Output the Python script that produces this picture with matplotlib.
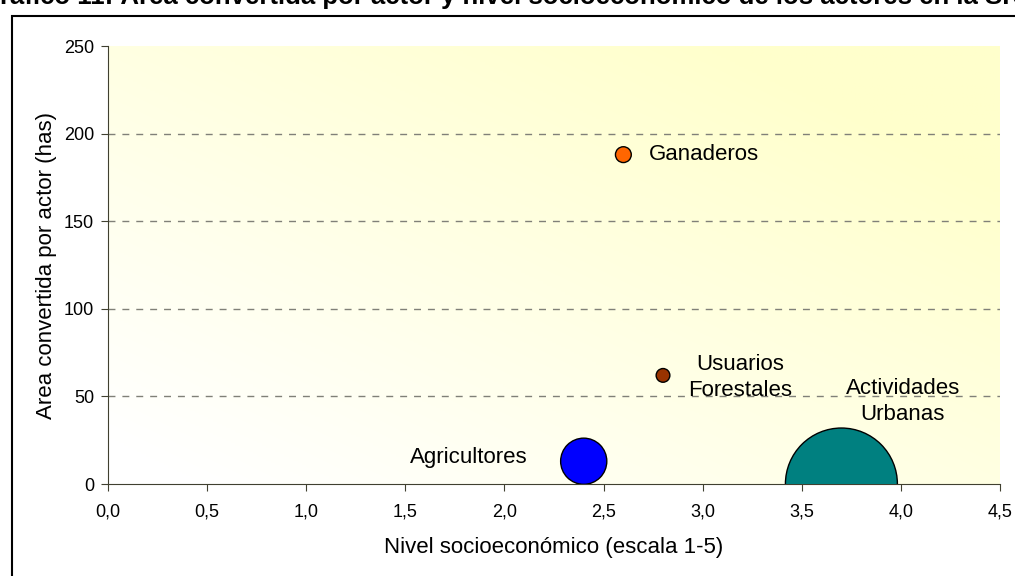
import numpy as np
import matplotlib.pyplot as plt
from matplotlib.patches import Rectangle
from matplotlib.colors import LinearSegmentedColormap

plt.rcParams['font.family'] = ['Liberation Sans', 'DejaVu Sans']

# datos del gráfico de burbujas
actores = ['Ganaderos', 'Usuarios\nForestales', 'Agricultores', 'Actividades\nUrbanas']
nivel_socio = [2.6, 2.8, 2.4, 3.7]
area_convertida = [188, 62, 13, 0]
tamano_burbuja = [2.0, 1.5, 17, 100]
colores = ['#FF6600', '#993300', '#0000FF', '#008080']

xticks = [0.0, 0.5, 1.0, 1.5, 2.0, 2.5, 3.0, 3.5, 4.0, 4.5]
yticks = [0, 50, 100, 150, 200, 250]

fig = plt.figure(figsize=(10.15, 5.76), dpi=100)
ax = fig.add_axes([0.1064, 0.1597, 0.8788, 0.7604])

# fondo degradado blanco -> amarillo
grad = np.add.outer(np.linspace(0, 1, 200), np.linspace(0, 1, 200)) / 2
cmap = LinearSegmentedColormap.from_list('fondo', ['#FFFFFF', '#FFFFCC'])
ax.imshow(grad, extent=[0, 4.5, 0, 250], origin='lower', cmap=cmap,
          aspect='auto', zorder=0, vmin=0.05, vmax=0.85)

for v in yticks[1:-1]:
    ax.axhline(v, color='#808078', linestyle=(0, (5, 5)), linewidth=1, zorder=1)

ax.scatter(nivel_socio, area_convertida, s=np.array(tamano_burbuja) * 65,
           c=colores, edgecolors='black', linewidths=1, zorder=3)

# etiquetas de cada actor
ax.text(nivel_socio[0] + 0.13, area_convertida[0], actores[0], fontsize=16,
        va='center', ha='left', zorder=4)
ax.text(nivel_socio[1] + 0.39, area_convertida[1] - 1, actores[1], fontsize=16,
        va='center', ha='center', linespacing=1.3, zorder=4)
ax.text(nivel_socio[2] - 0.58, area_convertida[2] + 2, actores[2], fontsize=16,
        va='center', ha='center', zorder=4)
ax.text(nivel_socio[3] + 0.31, area_convertida[3] + 47, actores[3], fontsize=16,
        va='center', ha='center', linespacing=1.3, zorder=4)

ax.set_xlim(0, 4.5)
ax.set_ylim(0, 250)
ax.set_xticks(xticks)
ax.set_xticklabels([f'{t:.1f}'.replace('.', ',') for t in xticks])
ax.set_yticks(yticks)
ax.tick_params(labelsize=13, length=5, color='#404030')
ax.tick_params(axis='x', pad=9)
ax.tick_params(axis='y', pad=5)
for s in ['top', 'right']:
    ax.spines[s].set_visible(False)
for s in ['left', 'bottom']:
    ax.spines[s].set_color('#404030')
ax.set_xlabel('Nivel socioeconómico (escala 1-5)', fontsize=16, labelpad=12)
ax.set_ylabel('Area convertida por actor (has)', fontsize=16, labelpad=5)

# marco del gráfico y título recortado
fig.patches.append(Rectangle((12 / 1015, -0.1), 1.2, 1 - 16 / 576 + 0.1,
                             transform=fig.transFigure, fill=False,
                             edgecolor='black', linewidth=1.5))
fig.text(-0.02, 0.993,
         'Gráfico 11: Área convertida por actor y nivel socioeconómico de los actores en la SRCI',
         fontsize=18.5, fontweight='bold', ha='left', va='baseline')

plt.savefig('out.png', dpi=100)
